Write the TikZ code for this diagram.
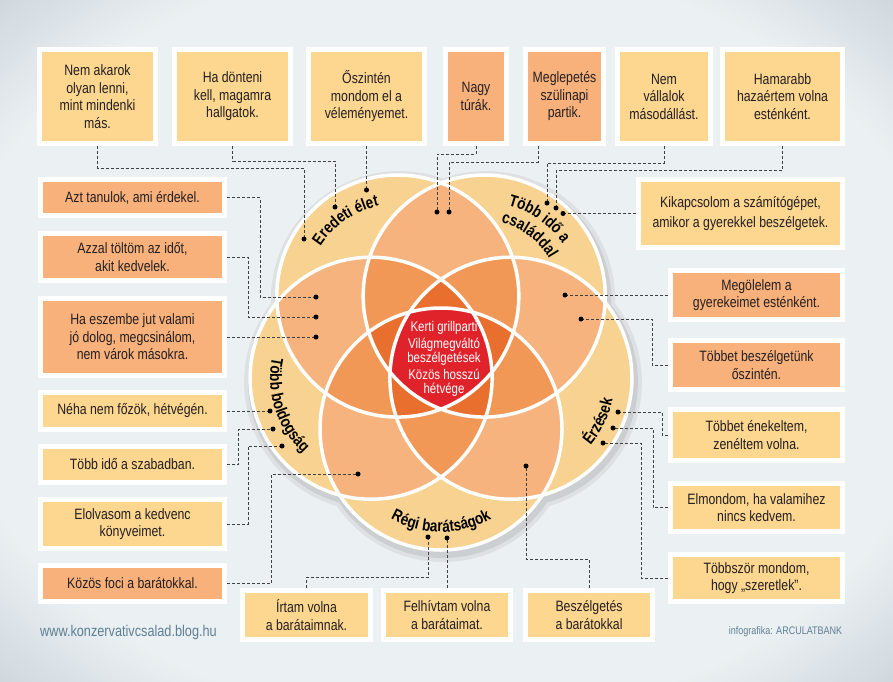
\documentclass[tikz,border=0pt]{standalone}
\usepackage{fontspec}
\setmainfont{Liberation Sans}[FakeStretch=0.82]
\usetikzlibrary{shadows,decorations.text}

\definecolor{boxyel}{HTML}{FDD690}
\definecolor{boxorg}{HTML}{F9B17C}
\definecolor{ring1}{HTML}{F8D290}
\definecolor{ring2}{HTML}{F7B37D}
\definecolor{ring3}{HTML}{F19856}
\definecolor{ring4}{HTML}{E96F2E}
\definecolor{ring5}{HTML}{E0232B}
\definecolor{bgin}{HTML}{EBF0F3}
\definecolor{bgout}{HTML}{9AA8B4}
\definecolor{inkgray}{HTML}{5E7F95}
\definecolor{txt}{HTML}{231F20}
\pgfdeclareradialshading{bgshade}{\pgfpoint{0bp}{0bp}}{color(0bp)=(bgin); color(28bp)=(bgin); color(50bp)=(bgout); color(72bp)=(bgout)}
\newcommand\lblfont{\fontsize{16.5}{18}\selectfont\bfseries}

\begin{document}
\begin{tikzpicture}[x=1pt,y=-1pt,
  note/.style={draw=white,line width=5pt,outer sep=2.5pt,align=center,text=txt,
    font=\fontsize{15}{17.5}\selectfont,
    drop shadow={shadow xshift=1.5pt,shadow yshift=-2.5pt,opacity=0.3}},
  yel/.style={note,fill=boxyel},
  org/.style={note,fill=boxorg},
  link/.style={densely dashed,line width=0.7pt,black!75},
  rim/.style={draw=white,line width=3.5pt}]
  \useasboundingbox (0,0) rectangle (893,681);
  \shade[shading=bgshade] (0,0) rectangle (893,681);

  \coordinate (O) at (441,355.5);
  \foreach \a [count=\i] in {126,54,-18,-90,198}
    \coordinate (c\i) at ([shift={(\a:73.5pt)}]O);

  \fill[black,opacity=0.06] \foreach \i in {1,...,5}{([shift={(2pt,-4pt)}]c\i) circle[radius=129pt]};
  \fill[black,opacity=0.08] \foreach \i in {1,...,5}{([shift={(2pt,-4pt)}]c\i) circle[radius=125pt]};
  \fill[ring1] \foreach \i in {1,...,5}{(c\i) circle[radius=121pt]};
  \foreach \i/\j in {1/2,1/3,1/4,1/5,2/3,2/4,2/5,3/4,3/5,4/5}{
    \begin{scope}
      \clip (c\i) circle[radius=121pt];
      \fill[ring2] (c\j) circle[radius=121pt];
    \end{scope}}
  \foreach \i/\j/\k in {1/2/3,1/2/4,1/2/5,1/3/4,1/3/5,1/4/5,2/3/4,2/3/5,2/4/5,3/4/5}{
    \begin{scope}
      \clip (c\i) circle[radius=121pt];
      \clip (c\j) circle[radius=121pt];
      \fill[ring3] (c\k) circle[radius=121pt];
    \end{scope}}
  \foreach \i/\j/\k/\l in {1/2/3/4,1/2/3/5,1/2/4/5,1/3/4/5,2/3/4/5}{
    \begin{scope}
      \clip (c\i) circle[radius=121pt];
      \clip (c\j) circle[radius=121pt];
      \clip (c\k) circle[radius=121pt];
      \fill[ring4] (c\l) circle[radius=121pt];
    \end{scope}}
  \begin{scope}
    \clip (c1) circle[radius=121pt];
    \clip (c2) circle[radius=121pt];
    \clip (c3) circle[radius=121pt];
    \clip (c4) circle[radius=121pt];
    \fill[ring5] (c5) circle[radius=121pt];
  \end{scope}
  \foreach \i in {1,...,5}
    \draw[rim] (c\i) circle[radius=121pt];

  \path[decorate,decoration={text along path,text align=center,text={|\lblfont|Eredeti élet}}]
    ([shift={(179.5:92pt)}]c1) arc[start angle=179.5,end angle=69.5,radius=92pt];
  \path[decorate,decoration={text along path,text align=center,text={|\lblfont|Több idő a}}]
    ([shift={(104.5:94pt)}]c2) arc[start angle=104.5,end angle=4.5,radius=94pt];
  \path[decorate,decoration={text along path,text align=center,text={|\lblfont|családdal}}]
    ([shift={(103.5:75pt)}]c2) arc[start angle=103.5,end angle=3.5,radius=75pt];
  \path[decorate,decoration={text along path,text align=center,text={|\lblfont|Érzések}}]
    ([shift={(-71:104pt)}]c3) arc[start angle=-71,end angle=19,radius=104pt];
  \path[decorate,decoration={text along path,text align=center,text={|\lblfont|Régi barátságok}}]
    ([shift={(-135:103pt)}]c4) arc[start angle=-135,end angle=-45,radius=103pt];
  \path[decorate,decoration={text along path,text align=center,text={|\lblfont|Több boldogság}}]
    ([shift={(153:101pt)}]c5) arc[start angle=153,end angle=243,radius=101pt];

  \node[align=center,text=white,font=\fontsize{14}{14}\selectfont] (core) at (444,359)
    {Kerti grillparti\\[3pt]Világmegváltó\\beszélgetések\\[3pt]Közös hosszú\\hétvége};

  \node[yel,minimum width=116pt,minimum height=94pt] (akarok) at (97.5,96.5) {Nem akarok\\olyan lenni,\\mint mindenki\\más.};
  \node[yel,minimum width=116pt,minimum height=94pt] (donteni) at (232.5,96.5) {Ha dönteni\\kell, magamra\\hallgatok.};
  \node[yel,minimum width=116pt,minimum height=94pt] (oszinten) at (366.5,96.5) {Őszintén\\mondom el a\\véleményemet.};
  \node[org,minimum width=61pt,minimum height=94pt] (turak) at (476,96.5) {Nagy\\túrák.};
  \node[org,minimum width=78pt,minimum height=94pt] (partik) at (564.5,96.5) {Meglepetés\\szülinapi\\partik.};
  \node[yel,minimum width=93pt,minimum height=94pt] (masod) at (664,96.5) {Nem\\vállalok\\másodállást.};
  \node[yel,minimum width=120pt,minimum height=94pt] (hamarabb) at (782.5,96.5) {Hamarabb\\hazaértem volna\\esténként.};

  \node[org,minimum width=184pt,minimum height=36pt] (tanulok) at (132.5,197.5) {Azt tanulok, ami érdekel.};
  \node[org,minimum width=184pt,minimum height=47pt] (toltom) at (132.5,257) {Azzal töltöm az időt,\\akit kedvelek.};
  \node[org,minimum width=184pt,minimum height=77pt] (eszembe) at (132.5,337) {Ha eszembe jut valami\\jó dolog, megcsinálom,\\nem várok másokra.};
  \node[yel,minimum width=184pt,minimum height=37pt] (fozok) at (132.5,411) {Néha nem főzök, hétvégén.};
  \node[yel,minimum width=184pt,minimum height=36pt] (szabad) at (132.5,464.5) {Több idő a szabadban.};
  \node[yel,minimum width=184pt,minimum height=49pt] (olvasom) at (132.5,524) {Elolvasom a kedvenc\\könyveimet.};
  \node[org,minimum width=184pt,minimum height=36pt] (foci) at (132.5,583.5) {Közös foci a barátokkal.};

  \node[yel,minimum width=204pt,minimum height=68pt,font=\fontsize{15}{20}\selectfont] (kikapcs) at (740.5,213.5) {Kikapcsolom a számítógépet,\\amikor a gyerekkel beszélgetek.};
  \node[org,minimum width=172pt,minimum height=49pt] (olelem) at (756.5,295) {Megölelem a\\gyerekeimet esténként.};
  \node[org,minimum width=172pt,minimum height=49pt] (beszel) at (756.5,365) {Többet beszélgetünk\\őszintén.};
  \node[yel,minimum width=172pt,minimum height=51pt] (enekel) at (756.5,435) {Többet énekeltem,\\zenéltem volna.};
  \node[yel,minimum width=172pt,minimum height=48pt] (elmond) at (756.5,507.5) {Elmondom, ha valamihez\\nincs kedvem.};
  \node[yel,minimum width=172pt,minimum height=47pt] (szeret) at (756.5,578) {Többször mondom,\\hogy „szeretlek”.};

  \node[yel,minimum width=128pt,minimum height=49pt] (irtam) at (306.5,615) {Írtam volna\\a barátaimnak.};
  \node[yel,minimum width=127pt,minimum height=49pt] (felhiv) at (447,615) {Felhívtam volna\\a barátaimat.};
  \node[yel,minimum width=127pt,minimum height=49pt] (beszelget) at (589,615) {Beszélgetés\\a barátokkal};

  \coordinate (d1) at (304,239);
  \coordinate (d2) at (335,207);
  \coordinate (d3) at (366.5,190);
  \coordinate (d4) at (437,212);
  \coordinate (d5) at (449,212);
  \coordinate (d6) at (547,203);
  \coordinate (d7) at (556,208);
  \coordinate (d8) at (563,213.5);
  \coordinate (d9) at (565,295);
  \coordinate (d10) at (581,319);
  \coordinate (d11) at (618,412);
  \coordinate (d12) at (613,428);
  \coordinate (d13) at (603,443);
  \coordinate (d14) at (526,466);
  \coordinate (d15) at (447,538);
  \coordinate (d16) at (428,537);
  \coordinate (d17) at (316,297);
  \coordinate (d18) at (316,317);
  \coordinate (d19) at (316,337);
  \coordinate (d20) at (270,411);
  \coordinate (d21) at (273,429);
  \coordinate (d22) at (282,446);
  \coordinate (d23) at (358,474);

  \draw[link] (akarok.south) -- ++(0,22) -| (d1);
  \draw[link] (donteni.south) -- ++(0,15) -| (d2);
  \draw[link] (oszinten.south) -- (d3);
  \draw[link] (turak.south) -- ++(0,8) -| (d4);
  \draw[link] ([xshift=-26.5pt]partik.south) -- ++(0,16) -| (d5);
  \draw[link] (masod.south) -- ++(0,17) -| (d6);
  \draw[link] (hamarabb.south) -- ++(0,24) -| (d7);
  \draw[link] (kikapcs.west) -- (d8);
  \draw[link] (olelem.west) -- (d9);
  \draw[link] (beszel.west) -- ++(-16,0) |- (d10);
  \draw[link] (enekel.west) -- ++(-6,0) |- (d11);
  \draw[link] (elmond.west) -- ++(-15,0) |- (d12);
  \draw[link] (szeret.west) -- ++(-27,0) |- (d13);
  \draw[link] (beszelget.north) -- ++(0,-29) -| (d14);
  \draw[link] (felhiv.north) -- (d15);
  \draw[link] (irtam.north) -- ++(0,-11) -| (d16);
  \draw[link] (tanulok.east) -- ++(33,0) |- (d17);
  \draw[link] (toltom.east) -- ++(21,0) |- (d18);
  \draw[link] (eszembe.east) -- (d19);
  \draw[link] (fozok.east) -- (d20);
  \draw[link] (szabad.east) -- ++(11,0) |- (d21);
  \draw[link] (olvasom.east) -- ++(21,0) |- (d22);
  \draw[link] (foci.east) -- ++(44,0) |- (d23);
  \foreach \i in {1,...,23}
    \fill (d\i) circle[radius=2.5pt];

  \node[text=inkgray,font=\fontsize{15.5}{18}\selectfont] (web) at (128.5,632) {www.konzervativcsalad.blog.hu};
  \node[text=inkgray,font=\fontsize{11}{13}\selectfont] (credit) at (785.5,632) {infografika: ARCULATBANK};
\end{tikzpicture}
\end{document}
